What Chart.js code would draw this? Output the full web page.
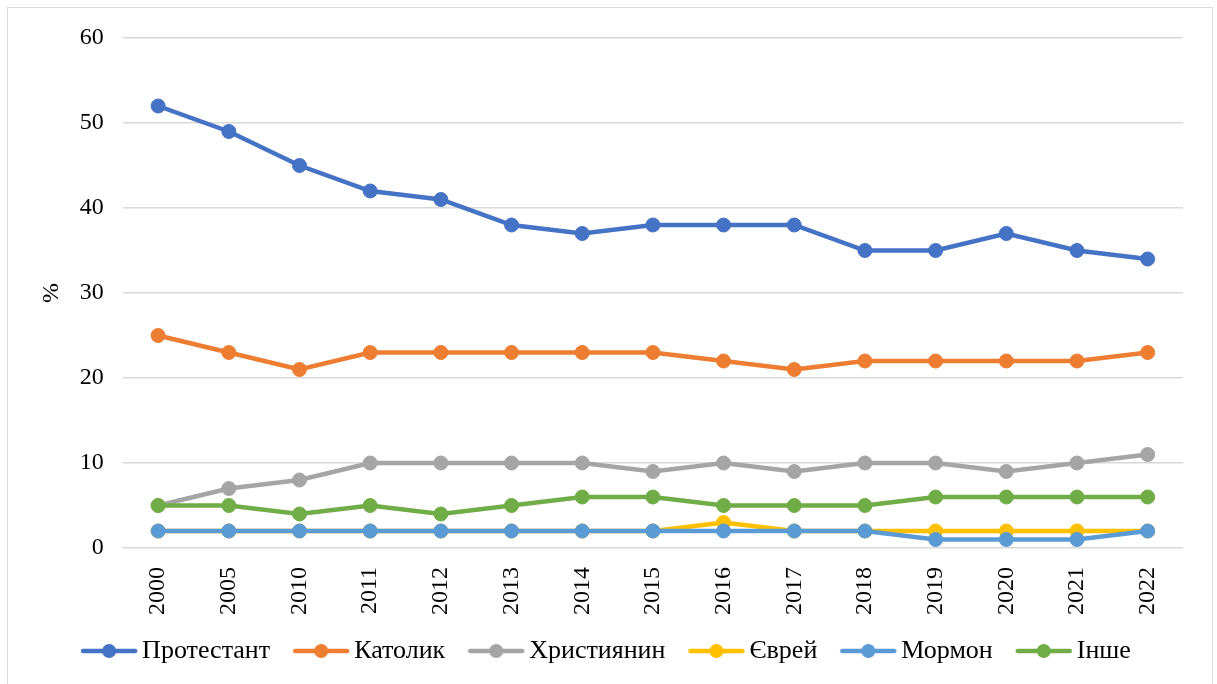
<!DOCTYPE html>
<html>
<head>
<meta charset="utf-8">
<script src="https://cdn.jsdelivr.net/npm/chart.js@4/dist/chart.umd.min.js"></script>
<style>
  body { margin: 0; background: #fff; }
  #frame { position: absolute; left: 7px; top: 7px; width: 1204px; height: 676px; border: 1px solid #d9d9d9; border-bottom: none; }
  #wrap { position: absolute; left: 0; top: 0; width: 1217px; height: 684px; }
</style>
</head>
<body>
<div id="frame"></div>
<div id="wrap"><canvas id="religionChart"></canvas></div>
<script>
const YEARS = ['2000', '2005', '2010', '2011', '2012', '2013', '2014', '2015', '2016', '2017', '2018', '2019', '2020', '2021', '2022'];
const PROTESTANT = [52, 49, 45, 42, 41, 38, 37, 38, 38, 38, 35, 35, 37, 35, 34];
const CATHOLIC = [25, 23, 21, 23, 23, 23, 23, 23, 22, 21, 22, 22, 22, 22, 23];
const CHRISTIAN = [5, 7, 8, 10, 10, 10, 10, 9, 10, 9, 10, 10, 9, 10, 11];
const JEWISH = [2, 2, 2, 2, 2, 2, 2, 2, 3, 2, 2, 2, 2, 2, 2];
const MORMON = [2, 2, 2, 2, 2, 2, 2, 2, 2, 2, 2, 1, 1, 1, 2];
const OTHER = [5, 5, 4, 5, 4, 5, 6, 6, 5, 5, 5, 6, 6, 6, 6];

const SERIES_NAMES = ['Протестант', 'Католик', 'Християнин', 'Єврей', 'Мормон', 'Інше'];
const SERIES_VALUES = [PROTESTANT, CATHOLIC, CHRISTIAN, JEWISH, MORMON, OTHER];
const SERIES_COLORS = ['#4472C4', '#ED7D31', '#A5A5A5', '#FFC000', '#5B9BD5', '#70AD47'];

const FONT = "'Liberation Serif', 'Times New Roman', serif";

// little line+dot picture for each legend entry
function legendMarker(color) {
    const c = document.createElement('canvas');
    c.width = 58;
    c.height = 16;
    const ctx = c.getContext('2d');
    ctx.strokeStyle = color;
    ctx.lineWidth = 4.5;
    ctx.lineCap = 'round';
    ctx.beginPath();
    ctx.moveTo(3, 8);
    ctx.lineTo(55, 8);
    ctx.stroke();
    ctx.fillStyle = color;
    ctx.beginPath();
    ctx.arc(29, 8, 7, 0, Math.PI * 2);
    ctx.fill();
    return c;
}

// legend takes less room and sits a bit higher, closer to the year labels
const legendNudge = {
    id: 'legendNudge',
    beforeLayout: function (chart) {
        const legend = chart.legend;
        if (legend && !legend._trimmed) {
            const fit = legend.fit;
            legend.fit = function () {
                fit.call(this);
                this.height -= 18;
            };
            legend._trimmed = true;
        }
    },
    afterLayout: function (chart) {
        if (chart.legend) {
            chart.legend.top -= 27;
            // keep the clip box tall enough for the text
            chart.legend.bottom = chart.height;
        }
    }
};

const datasets = SERIES_NAMES.map(function (name, i) {
    return {
        label: name,
        data: SERIES_VALUES[i],
        borderColor: SERIES_COLORS[i],
        backgroundColor: SERIES_COLORS[i],
        pointBackgroundColor: SERIES_COLORS[i],
        pointBorderColor: SERIES_COLORS[i],
        borderWidth: 4.5,
        pointRadius: 7,
        pointBorderWidth: 1,
        tension: 0,
        order: SERIES_NAMES.length - i
    };
});

const config = {
    type: 'line',
    data: { labels: YEARS, datasets: datasets },
    plugins: [legendNudge],
    options: {
        responsive: false,
        animation: false,
        layout: { padding: { top: 38, right: 34, bottom: 1, left: 37 } },
        plugins: {
            tooltip: { enabled: false },
            legend: {
                position: 'bottom',
                labels: {
                    usePointStyle: true,
                    pointStyleWidth: 40,
                    padding: 31,
                    color: '#000',
                    font: { family: FONT, size: 26 },
                    generateLabels: function (chart) {
                        return chart.data.datasets.map(function (ds, i) {
                            return {
                                text: ds.label,
                                pointStyle: legendMarker(ds.borderColor),
                                fillStyle: ds.borderColor,
                                strokeStyle: ds.borderColor,
                                lineWidth: 0,
                                fontColor: '#000',
                                datasetIndex: i
                            };
                        });
                    }
                }
            }
        },
        scales: {
            x: {
                offset: true,
                grid: { display: false, drawTicks: false },
                border: { display: false },
                ticks: {
                    color: '#000',
                    minRotation: 90,
                    maxRotation: 90,
                    padding: 19,
                    font: { family: FONT, size: 24 }
                }
            },
            y: {
                min: 0,
                max: 60,
                grid: { color: '#d9d9d9', lineWidth: 1.5, drawTicks: false },
                border: { display: false },
                ticks: {
                    stepSize: 10,
                    color: '#000',
                    padding: 19,
                    font: { family: FONT, size: 24 }
                },
                title: {
                    display: true,
                    text: '%',
                    color: '#000',
                    padding: { top: 0, bottom: -5 },
                    font: { family: FONT, size: 24 }
                }
            }
        }
    }
};

const canvas = document.getElementById('religionChart');
canvas.width = 1217;
canvas.height = 684;
const religionChart = new Chart(canvas, config);
</script>
</body>
</html>
